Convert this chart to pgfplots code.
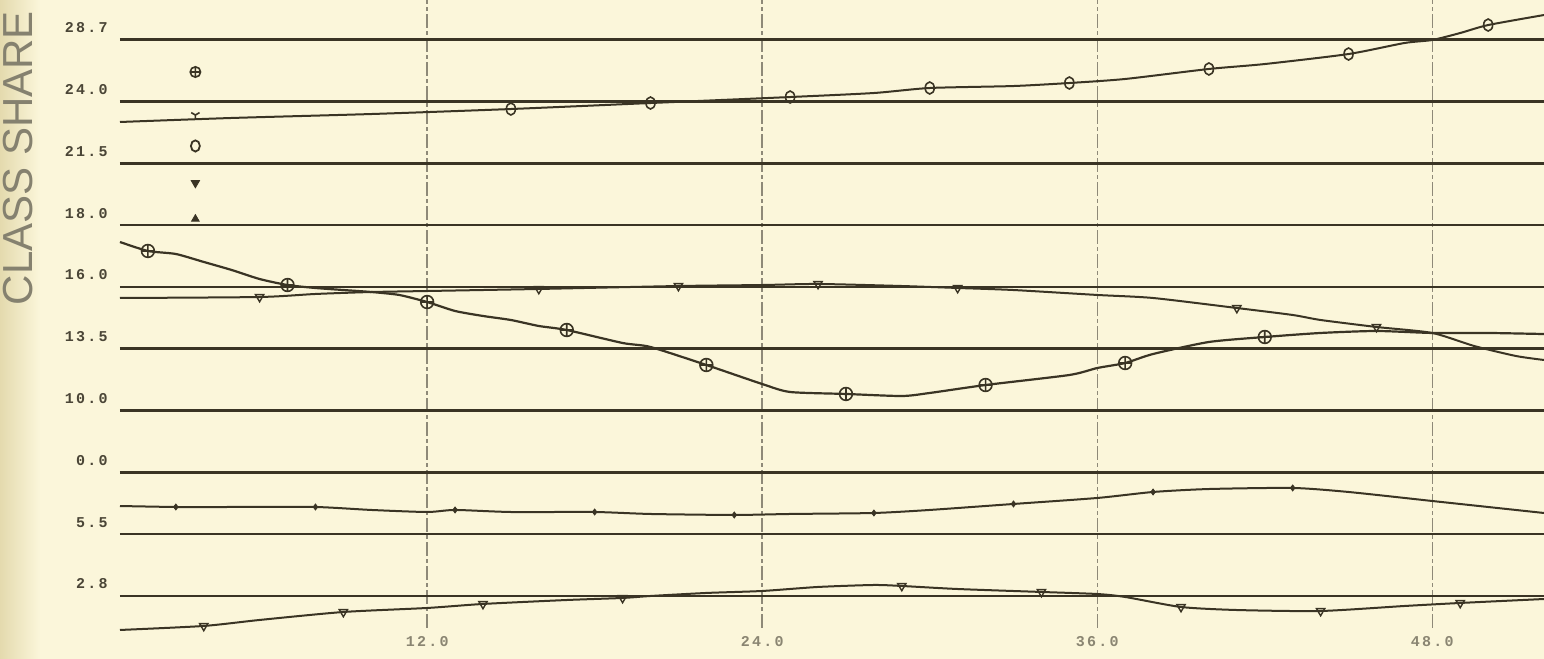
\documentclass[border=0pt]{standalone}
\usepackage{pgfplots}
\pgfplotsset{compat=1.18}
\usepackage{fontspec}
\setmainfont{Liberation Sans}
\newfontfamily\monofont[LetterSpace=15]{Liberation Mono}
\usetikzlibrary{plotmarks}
\definecolor{paper}{HTML}{FBF6DA}
\definecolor{paperdark}{HTML}{E4DAAE}
\definecolor{ink}{HTML}{3A3424}
\definecolor{gridv}{HTML}{8E8978}
\definecolor{lbl}{HTML}{4A4536}
\definecolor{lblx}{HTML}{8A8572}
\definecolor{ylab}{HTML}{85816F}
\begin{document}
\begin{tikzpicture}
\fill[paper] (-60pt,-15.5pt) rectangle (712pt,314pt);
\shade[left color=paperdark, right color=paper] (-60pt,-15.5pt) rectangle (-40pt,314pt);
\begin{axis}[
  scale only axis, width=712pt, height=314pt,
  xmin=1, xmax=52, ymin=-0.518, ymax=9.644,
  clip=false, axis line style={draw=none},
  major tick length=0pt,
  xtick={12,24,36,48},
  xticklabels={12.0,24.0,36.0,48.0},
  ytick={0,1,2,3,4,5,6,7,8,9},
  yticklabels={2.8,5.5,0.0,10.0,13.5,16.0,18.0,21.5,24.0,28.7},
  xmajorgrids, ymajorgrids,
  x grid style={gridv, line width=0.7pt, dash pattern=on 7pt off 1.5pt on 2pt off 1.5pt},
  y grid style={ink, line width=1.3pt},
  yticklabel style={font=\monofont\bfseries\fontsize{7.5}{8}\selectfont, text=lbl, anchor=east, inner sep=0pt, xshift=-6pt, yshift=6pt},
  xticklabel style={font=\monofont\bfseries\fontsize{7.5}{8}\selectfont, text=lblx, anchor=north, inner sep=0pt, yshift=-4pt},
  ylabel={CLASS SHARE},
  ylabel style={at={(axis description cs:-0.0716,0.748)}, anchor=center, font=\fontsize{21}{24}\selectfont, text=ylab},
]
% Series A (top)
\addplot[ink, line width=1pt, smooth, tension=0.4] coordinates {
(1,7.670) (5,7.735) (10,7.799) (15,7.880) (20,7.977) (25,8.074) (28,8.139) (30,8.220) (33,8.252) (35,8.301) (37,8.366) (40,8.528) (42,8.608) (45,8.770) (47,8.948) (48,8.997) (49,9.110) (50,9.239) (52,9.401)};
\addplot[only marks, mark=o, mark size=3pt, mark options={ink, xscale=0.75, line width=0.8pt, fill=paper}] coordinates {
(15,7.880) (20,7.977) (25,8.074) (30,8.220) (35,8.301) (40,8.528) (45,8.770) (50,9.239)};
% Series B (circled)
\addplot[ink, line width=1.1pt, smooth, tension=0.4] coordinates {
(1,5.728) (2,5.583) (3,5.534) (4,5.405) (5,5.275) (6,5.129) (7,5.032) (8,4.984) (9,4.951) (10,4.919) (11,4.871) (12,4.757) (13,4.612) (14,4.531) (15,4.466) (16,4.369) (17,4.304) (19,4.094) (20,4.029) (22,3.738) (24,3.430) (25,3.301) (27,3.269) (29,3.236) (30,3.285) (32,3.414) (35,3.576) (36,3.689) (37,3.770) (38,3.916) (40,4.110) (42,4.191) (44,4.256) (46,4.288) (48,4.256) (50,4.256) (52,4.239)};
\addplot[only marks, mark=oplus, mark size=3.2pt, mark options={ink, line width=0.8pt, fill=paper}] coordinates {
(2,5.583) (7,5.032) (12,4.757) (17,4.304) (22,3.738) (27,3.269) (32,3.414) (37,3.770) (42,4.191)};
% Series C (v markers, near 16.0)
\addplot[ink, line width=1pt, smooth, tension=0.4] coordinates {
(1,4.822) (6,4.838) (8,4.887) (10,4.919) (12,4.935) (16,4.968) (21,5.016) (24,5.032) (26,5.049) (29,5.016) (31,4.984) (33,4.951) (36,4.871) (38,4.822) (41,4.660) (43,4.547) (44,4.466) (46,4.353) (48,4.256) (49.5,4.045) (51,3.883) (52,3.819)};
\addplot[only marks, mark=triangle, mark size=2.4pt, mark options={ink, rotate=180, line width=0.7pt, fill=paper}] coordinates {
(6,4.838) (16,4.968) (21,5.016) (26,5.049) (31,4.984) (41,4.660) (46,4.353)};
% Series D (dots, near 5.5)
\addplot[ink, line width=1pt, smooth, tension=0.4] coordinates {
(1,1.456) (3,1.440) (5,1.440) (8,1.440) (10,1.392) (12,1.359) (13,1.392) (15,1.359) (18,1.359) (20,1.327) (23,1.311) (25,1.327) (28,1.343) (30,1.392) (33,1.489) (36,1.586) (38,1.683) (40,1.731) (43,1.748) (45,1.683) (48,1.537) (50,1.440) (52,1.343)};
\addplot[only marks, mark=diamond*, mark size=1.5pt, mark options={ink}] coordinates {
(3,1.440) (8,1.440) (13,1.392) (18,1.359) (23,1.311) (28,1.343) (33,1.489) (38,1.683) (43,1.748)};
% Series E (bottom)
\addplot[ink, line width=1pt, smooth, tension=0.4] coordinates {
(1,-0.550) (4,-0.485) (6,-0.388) (9,-0.259) (12,-0.194) (14,-0.129) (17,-0.065) (19,-0.032) (20,0.000) (22,0.049) (24,0.081) (26,0.146) (28,0.178) (29,0.162) (31,0.113) (34,0.065) (36,0.032) (37,-0.016) (39,-0.178) (41,-0.227) (44,-0.243) (47,-0.162) (49,-0.113) (52,-0.049)};
\addplot[only marks, mark=triangle, mark size=2.4pt, mark options={ink, rotate=180, line width=0.7pt, fill=paper}] coordinates {
(4,-0.485) (9,-0.259) (14,-0.129) (19,-0.032) (29,0.162) (34,0.065) (39,-0.178) (44,-0.243) (49,-0.113)};
% Key symbols (no text)
\addplot[only marks, mark=oplus, mark size=2.6pt, mark options={ink, line width=0.8pt, fill=paper}] coordinates {(3.7,8.479)};
\addplot[only marks, mark=Mercedes star flipped, mark size=2.4pt, mark options={ink, line width=0.8pt}] coordinates {(3.7,7.783)};
\addplot[only marks, mark=o, mark size=2.8pt, mark options={ink, xscale=0.8, line width=0.9pt, fill=paper}] coordinates {(3.7,7.282)};
\addplot[only marks, mark=triangle*, mark size=2.4pt, mark options={ink, rotate=180}] coordinates {(3.7,6.683)};
\addplot[only marks, mark=triangle*, mark size=2.2pt, mark options={ink}] coordinates {(3.7,6.10)};
\end{axis}
\pgfresetboundingbox
\path[use as bounding box] (-60pt,-15.5pt) rectangle (712pt,314pt);
\end{tikzpicture}
\end{document}
